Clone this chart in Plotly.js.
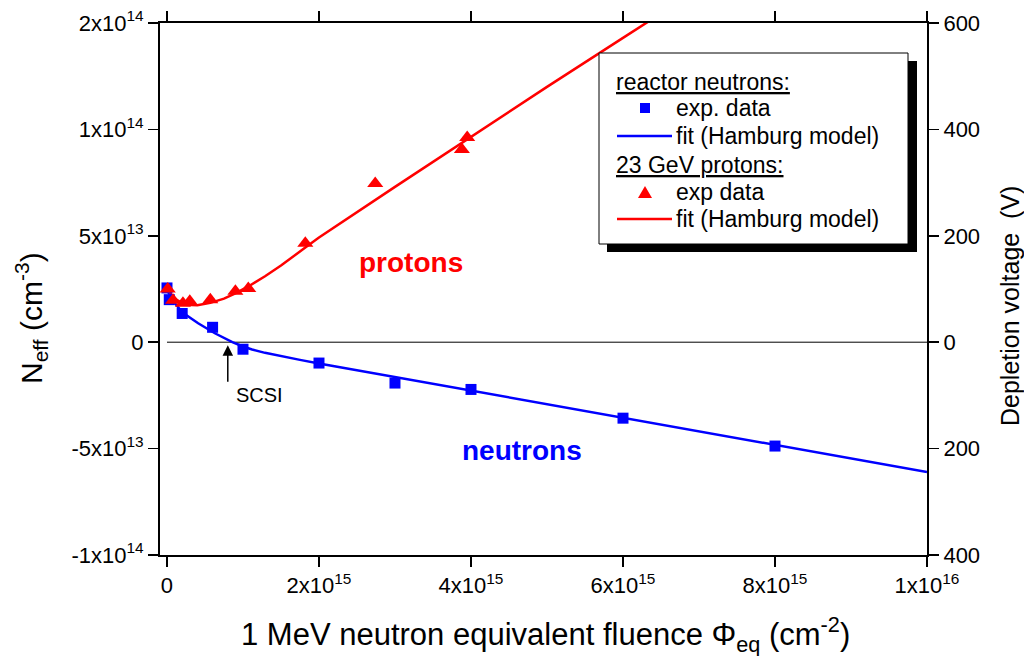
<!DOCTYPE html>
<html><head><meta charset="utf-8">
<script src="https://cdn.plot.ly/plotly-3.0.1.min.js"></script>
<style>html,body{margin:0;padding:0;background:#fff}</style>
</head><body><div id="chart" style="width:1024px;height:656px"></div>
<script>
// ---- data ----
const neutronFluence = [0, 0.03e15, 0.2e15, 0.6e15, 1.0e15, 2e15, 3e15, 4e15, 6e15, 8e15];
const neutronNeff    = [2.55e13, 2.0e13, 1.35e13, 0.7e13, -0.33e13, -0.98e13, -1.92e13, -2.22e13, -3.57e13, -4.88e13];

const protonFluence = [0.01e15, 0.08e15, 0.21e15, 0.3e15, 0.57e15, 0.9e15, 1.07e15, 1.82e15, 2.74e15, 3.88e15, 3.95e15];
const protonNeff    = [2.5e13, 1.97e13, 1.83e13, 1.92e13, 2.0e13, 2.4e13, 2.52e13, 4.65e13, 7.46e13, 9.06e13, 9.62e13];

const neutronFitFluence = [0, 0.1e15, 0.2e15, 0.41e15, 0.63e15, 0.86e15, 1.0e15, 1.12e15, 1.29e15, 1.5e15, 1.75e15, 2e15, 2.5e15, 3e15, 4e15, 5e15, 6e15, 7e15, 8e15, 9e15, 10e15];
const neutronFitNeff    = [2.45e13, 1.85e13, 1.41e13, 0.89e13, 0.42e13, 0, -0.2e13, -0.34e13, -0.5e13, -0.66e13, -0.83e13, -1.0e13, -1.32e13, -1.64e13, -2.28e13, -2.92e13, -3.56e13, -4.2e13, -4.84e13, -5.48e13, -6.1e13];

const protonFitFluence = [0, 0.1e15, 0.24e15, 0.4e15, 0.57e15, 0.75e15, 0.9e15, 1.07e15, 1.29e15, 1.5e15, 1.82e15, 2e15, 3e15, 4e15, 5e15, 6e15, 6.5e15];
const protonFitNeff    = [2.5e13, 2.05e13, 1.76e13, 1.74e13, 1.85e13, 2.05e13, 2.3e13, 2.62e13, 3.1e13, 3.6e13, 4.45e13, 4.92e13, 7.3e13, 9.65e13, 12.0e13, 14.3e13, 15.45e13];

const xTickVals = [0, 2e15, 4e15, 6e15, 8e15, 1e16];
const xTickText = ['0', '2x10<sup>15</sup>', '4x10<sup>15</sup>', '6x10<sup>15</sup>', '8x10<sup>15</sup>', '1x10<sup>16</sup>'];
const yTickVals = [-1e14, -5e13, 0, 5e13, 1e14, 1.5e14];
const yTickText = ['-1x10<sup>14</sup>', '-5x10<sup>13</sup>', '0', '5x10<sup>13</sup>', '1x10<sup>14</sup>', '2x10<sup>14</sup>'];
const y2TickVals = [-400, -200, 0, 200, 400, 600];
const y2TickText = ['400', '200', '0', '200', '400', '600'];

// ---- layout helpers (pixel -> paper) ----
const L = 160, R = 927, T = 23, B = 555;
const px = x => (x - L) / (R - L);
const py = y => (B - y) / (B - T);
const FONT = 'Liberation Sans, Arial, sans-serif';
const BLUE = '#0000ff', RED = '#ff0000';

const traces = [
  {x: neutronFitFluence, y: neutronFitNeff, mode: 'lines', line: {color: BLUE, width: 2.5}, showlegend: false, hoverinfo: 'skip'},
  {x: protonFitFluence, y: protonFitNeff, mode: 'lines', line: {color: RED, width: 2.5}, showlegend: false, hoverinfo: 'skip'},
  {x: neutronFluence, y: neutronNeff, mode: 'markers', marker: {symbol: 'square', size: 11, color: BLUE}, showlegend: false},
  {x: protonFluence, y: protonNeff, mode: 'markers', marker: {symbol: 'triangle-up', size: 14, color: RED}, showlegend: false},
  // empty trace that binds the depletion-voltage axis so it is drawn
  {x: [null], y: [null], yaxis: 'y2', mode: 'markers', showlegend: false, hoverinfo: 'skip'}
];

const axisCommon = {
  showgrid: false, zeroline: false, showline: true, linecolor: '#000', linewidth: 2,
  ticks: 'outside', ticklen: 10, tickwidth: 1.5, tickcolor: '#000',
  tickfont: {family: FONT, size: 22, color: '#000'}, tickmode: 'array'
};

const shapes = [
  {type: 'line', xref: 'x', yref: 'y', x0: 0, x1: 1e16, y0: 0, y1: 0, line: {color: '#000', width: 1}, layer: 'below'},
  // legend shadow and box
  {type: 'rect', xref: 'paper', yref: 'paper', x0: px(607), x1: px(917), y0: py(61), y1: py(252), fillcolor: '#000', line: {width: 0}, layer: 'above'},
  {type: 'rect', xref: 'paper', yref: 'paper', x0: px(599), x1: px(908), y0: py(53), y1: py(244), fillcolor: '#fff', line: {color: '#000', width: 1}, layer: 'above'},
  // legend symbols
  {type: 'rect', xref: 'paper', yref: 'paper', x0: px(640), x1: px(650), y0: py(103), y1: py(113), fillcolor: BLUE, line: {width: 0}, layer: 'above'},
  {type: 'line', xref: 'paper', yref: 'paper', x0: px(617), x1: px(672), y0: py(136), y1: py(136), line: {color: BLUE, width: 2.5}, layer: 'above'},
  {type: 'path', xref: 'paper', yref: 'paper', path: `M ${px(638)} ${py(198)} L ${px(652)} ${py(198)} L ${px(645)} ${py(186)} Z`, fillcolor: RED, line: {width: 0}, layer: 'above'},
  {type: 'line', xref: 'paper', yref: 'paper', x0: px(617), x1: px(672), y0: py(219), y1: py(219), line: {color: RED, width: 2.5}, layer: 'above'}
];

const legText = (txt, x, y) => ({xref: 'paper', yref: 'paper', x: px(x), y: py(y), xanchor: 'left', yanchor: 'middle',
  text: txt, showarrow: false, font: {family: FONT, size: 23, color: '#000'}});

const annotations = [
  legText('<u>reactor neutrons:</u>', 614, 82),
  legText('exp. data', 674, 108),
  legText('fit (Hamburg model)', 674, 136),
  legText('<u>23 GeV protons:</u>', 614, 165),
  legText('exp data', 674, 192),
  legText('fit (Hamburg model)', 674, 219),
  {xref: 'x', yref: 'y', x: 3.21e15, y: 3.76e13, text: '<b>protons</b>', showarrow: false, font: {family: FONT, size: 28, color: RED}},
  {xref: 'x', yref: 'y', x: 4.67e15, y: -5.07e13, text: '<b>neutrons</b>', showarrow: false, font: {family: FONT, size: 28, color: BLUE}},
  {xref: 'x', yref: 'y', x: 0.8e15, y: -0.14e13, ax: 0, ay: 38, text: '', showarrow: true, arrowhead: 2, arrowsize: 1.4, arrowwidth: 1.5, arrowcolor: '#000'},
  {xref: 'x', yref: 'y', x: 1.22e15, y: -2.49e13, text: 'SCSI', showarrow: false, font: {family: FONT, size: 20, color: '#000'}},
  // axis titles
  {xref: 'paper', yref: 'paper', x: px(545), y: py(634), text: '1 MeV neutron equivalent fluence \u03A6<sub>eq</sub> (cm<sup>-2</sup>)', showarrow: false,
    font: {family: FONT, size: 31, color: '#000'}, xanchor: 'center', yanchor: 'middle'},
  {xref: 'paper', yref: 'paper', x: px(31), y: py(318), text: 'N<sub>eff</sub> (cm<sup>-3</sup>)', showarrow: false, textangle: -90,
    font: {family: FONT, size: 30, color: '#000'}, xanchor: 'center', yanchor: 'middle'},
  {xref: 'paper', yref: 'paper', x: px(1010), y: py(306), text: 'Depletion voltage  (V)', showarrow: false, textangle: -90,
    font: {family: FONT, size: 25, color: '#000'}, xanchor: 'center', yanchor: 'middle'}
];

const layout = {
  width: 1024, height: 656,
  margin: {l: L, r: 1024 - R, t: T, b: 656 - B, pad: 0},
  paper_bgcolor: '#fff', plot_bgcolor: '#fff',
  showlegend: false,
  font: {family: FONT, color: '#000'},
  xaxis: Object.assign({}, axisCommon, {range: [-0.092e15, 1e16], tickvals: xTickVals, ticktext: xTickText, mirror: 'allticks'}),
  yaxis: Object.assign({}, axisCommon, {range: [-1e14, 1.5e14], tickvals: yTickVals, ticktext: yTickText}),
  yaxis2: Object.assign({}, axisCommon, {overlaying: 'y', side: 'right', range: [-400, 600], tickvals: y2TickVals, ticktext: y2TickText}),
  shapes: shapes,
  annotations: annotations
};

Plotly.newPlot('chart', traces, layout, {staticPlot: true, displayModeBar: false});
</script>
</body></html>
